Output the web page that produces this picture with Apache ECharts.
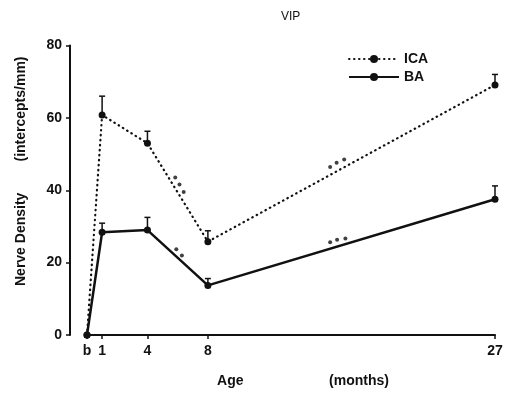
<!DOCTYPE html>
<html>
<head>
<meta charset="utf-8">
<script src="https://cdn.jsdelivr.net/npm/echarts@6/dist/echarts.min.js"></script>
<style>
  html, body { margin: 0; padding: 0; background: #fff; }
  #vip { width: 506px; height: 393px; }
</style>
</head>
<body>
<div id="vip"></div>
<script>
// age in months, b = birth (0)
var ageMonths = [0, 1, 4, 8, 27];
var xTickLabels = ['b', '1', '4', '8', '27'];

var icaDensity = [0, 60.8, 53.0, 25.8, 69.1];
var icaError = [0, 5.2, 3.3, 3.0, 2.9];
var baDensity = [0, 28.4, 29.0, 13.7, 37.5];
var baError = [0, 2.5, 3.5, 1.9, 3.7];

// significance dots
var icaSigX = [5.84, 6.12, 6.40, 16.09, 16.52, 17.02];
var icaSigY = [43.5, 41.6, 39.5, 46.4, 47.6, 48.5];
var baSigX = [5.91, 6.28, 16.09, 16.55, 17.10];
var baSigY = [23.7, 22.0, 25.6, 26.3, 26.7];

var ink = '#111';
var font = '"Liberation Sans", Arial, sans-serif';

function pairs(xs, ys) {
    var out = [];
    for (var i = 0; i < xs.length; i++) {
        out.push([xs[i], ys[i]]);
    }
    return out;
}

function errData(ys, es) {
    var out = [];
    for (var i = 0; i < ageMonths.length; i++) {
        if (es[i] > 0) out.push([ageMonths[i], ys[i], es[i]]);
    }
    return out;
}

// upward error bar with a small cap
function renderErr(params, api) {
    var x = api.value(0), y = api.value(1), e = api.value(2);
    var base = api.coord([x, y]);
    var top = api.coord([x, y + e]);
    var st = { stroke: ink, lineWidth: 1.5 };
    return {
        type: 'group',
        children: [
            { type: 'line', shape: { x1: base[0], y1: base[1], x2: top[0], y2: top[1] }, style: st },
            { type: 'line', shape: { x1: top[0] - 3, y1: top[1], x2: top[0] + 3, y2: top[1] }, style: st }
        ]
    };
}

var chart = echarts.init(document.getElementById('vip'));

var option = {
    backgroundColor: '#fff',
    animation: false,
    title: {
        text: 'VIP',
        left: 281,
        top: 11,
        padding: 0,
        textStyle: { fontFamily: font, fontSize: 12, fontWeight: 'normal', color: ink }
    },
    legend: {
        orient: 'vertical',
        left: 348,
        top: 52,
        padding: 0,
        itemWidth: 50,
        itemHeight: 10,
        itemGap: 4,
        data: ['ICA', 'BA'],
        textStyle: { fontFamily: font, fontSize: 14, fontWeight: 'bold', color: ink }
    },
    grid: {
        left: 87,
        right: 11,
        top: 45.5,
        bottom: 58
    },
    xAxis: {
        type: 'value',
        min: 0,
        max: 27,
        name: 'Age                      (months)',
        nameLocation: 'middle',
        nameGap: 39,
        nameTextStyle: { fontFamily: font, fontSize: 14, fontWeight: 'bold', color: ink, padding: [0, 0, 0, 24] },
        axisLine: { lineStyle: { color: ink, width: 2 } },
        axisTick: { length: 4, lineStyle: { color: ink, width: 1.5 }, customValues: ageMonths },
        axisLabel: {
            margin: 9,
            fontFamily: font, fontSize: 14, fontWeight: 'bold', color: ink,
            customValues: ageMonths,
            formatter: function (v) {
                return xTickLabels[ageMonths.indexOf(v)];
            }
        },
        splitLine: { show: false }
    },
    yAxis: {
        type: 'value',
        min: 0,
        max: 80,
        interval: 20,
        offset: 17,
        name: 'Nerve Density        (intercepts/mm)',
        nameLocation: 'middle',
        nameGap: 42,
        nameTextStyle: { fontFamily: font, fontSize: 14, fontWeight: 'bold', color: ink, padding: [0, 0, 0, 38] },
        axisLine: { show: true, onZero: false, lineStyle: { color: ink, width: 2 } },
        axisTick: { show: true, length: 4, lineStyle: { color: ink, width: 1.5 } },
        axisLabel: { margin: 8, fontFamily: font, fontSize: 14, fontWeight: 'bold', color: ink },
        splitLine: { show: false }
    },
    series: [
        {
            name: 'ICA',
            type: 'line',
            data: pairs(ageMonths, icaDensity),
            symbol: 'circle',
            symbolSize: 7,
            itemStyle: { color: ink },
            lineStyle: { color: ink, width: 2.2, type: [0.5, 4.5], cap: 'round' },
            z: 3
        },
        {
            name: 'BA',
            type: 'line',
            data: pairs(ageMonths, baDensity),
            symbol: 'circle',
            symbolSize: 7,
            itemStyle: { color: ink },
            lineStyle: { color: ink, width: 2.5 },
            z: 3
        },
        {
            type: 'custom',
            renderItem: renderErr,
            data: errData(icaDensity, icaError),
            z: 2
        },
        {
            type: 'custom',
            renderItem: renderErr,
            data: errData(baDensity, baError),
            z: 2
        },
        {
            type: 'scatter',
            data: pairs(icaSigX, icaSigY).concat(pairs(baSigX, baSigY)),
            symbolSize: 4,
            itemStyle: { color: ink },
            z: 2
        }
    ]
};

chart.setOption(option);
</script>
</body>
</html>
